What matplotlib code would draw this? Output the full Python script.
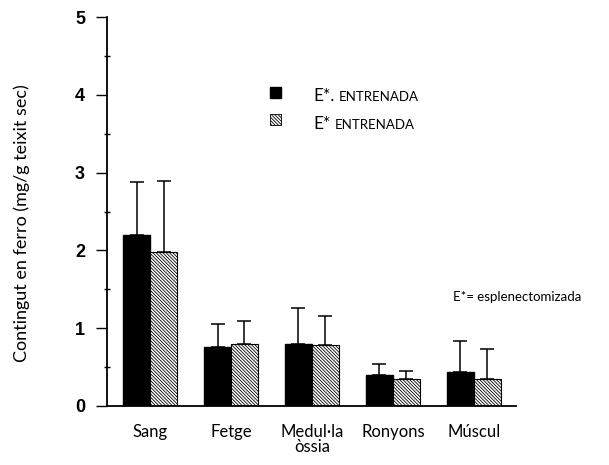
import matplotlib
matplotlib.use('Agg')
import matplotlib.pyplot as plt  # noqa: E402
from matplotlib.patches import Rectangle  # noqa: E402
import numpy as np  # noqa: E402

# data
categories = ['Sang', 'Fetge', 'Medul\u00b7la\n\u00f2ssia', 'Ronyons', 'M\u00fascul']
entrenada_1 = [2.20, 0.76, 0.80, 0.40, 0.44]
entrenada_1_sd = [0.68, 0.29, 0.46, 0.14, 0.40]
entrenada_2 = [1.98, 0.80, 0.78, 0.35, 0.35]
entrenada_2_sd = [0.91, 0.29, 0.38, 0.10, 0.38]
y_ticks = [0, 1, 2, 3, 4, 5]

plt.rcParams['hatch.linewidth'] = 0.6
HATCH = '\\' * 10

fig = plt.figure(figsize=(6.09, 4.65), dpi=100)
ax = fig.add_axes([0.176, 0.127, 0.671, 0.836])

x = np.arange(len(categories))
w = 0.333
err_kw = dict(ecolor='black', elinewidth=1.1, capsize=4.8, capthick=1.1)

ax.bar(x - w / 2, entrenada_1, w, color='black', edgecolor='black',
       yerr=[np.zeros(len(x)), entrenada_1_sd], error_kw=err_kw, zorder=2)
ax.bar(x + w / 2, entrenada_2, w, color='white', edgecolor='black',
       hatch=HATCH, linewidth=0.8,
       yerr=[np.zeros(len(x)), entrenada_2_sd], error_kw=err_kw, zorder=2)

ax.set_xlim(-0.53, 4.52)
ax.set_ylim(0, 5)
ax.set_yticks(y_ticks)
ax.set_yticks(np.arange(0.5, 5, 1), minor=True)
ax.set_xticks(x)
ax.set_xticklabels(categories, family='Lato', fontsize=12, linespacing=0.9)
ax.tick_params(axis='x', length=0, pad=13)
ax.tick_params(axis='y', which='major', length=8, width=1, direction='out', pad=8)
ax.tick_params(axis='y', which='minor', length=4, width=1, direction='inout')
for lbl in ax.get_yticklabels():
    lbl.set_family('Liberation Sans')
    lbl.set_fontweight('bold')
    lbl.set_fontsize(13)

for s in ['top', 'right']:
    ax.spines[s].set_visible(False)
ax.spines['left'].set_linewidth(1.3)
ax.spines['bottom'].set_linewidth(1.3)

ax.set_ylabel('Contingut en ferro (mg/g teixit sec)', family='Lato', fontsize=13)
ax.yaxis.set_label_coords(-0.19, 0.47)

# hand made legend
W, H = 609, 465
fig.patches.append(Rectangle((270 / W, 1 - 98 / H), 11 / W, 11 / H, facecolor='black',
                             edgecolor='black', transform=fig.transFigure, figure=fig))
fig.patches.append(Rectangle((270 / W, 1 - 125 / H), 11 / W, 11 / H, facecolor='white',
                             edgecolor='black', hatch=HATCH, linewidth=0.6,
                             transform=fig.transFigure, figure=fig))
fig.text(313 / W, 1 - 96 / H, 'E*.', family='Lato', fontsize=12.5, va='center')
fig.text(339 / W, 1 - 97 / H, 'ENTRENADA', family='Lato', fontsize=9.5, va='center')
fig.text(313 / W, 1 - 124 / H, 'E*', family='Lato', fontsize=12.5, va='center')
fig.text(335 / W, 1 - 125 / H, 'ENTRENADA', family='Lato', fontsize=9.5, va='center')
fig.text(453 / W, 1 - 297 / H, 'E*= esplenectomizada', family='Lato', fontsize=9.5, va='center')

fig.savefig('out.png', dpi=100)
plt.close(fig)
